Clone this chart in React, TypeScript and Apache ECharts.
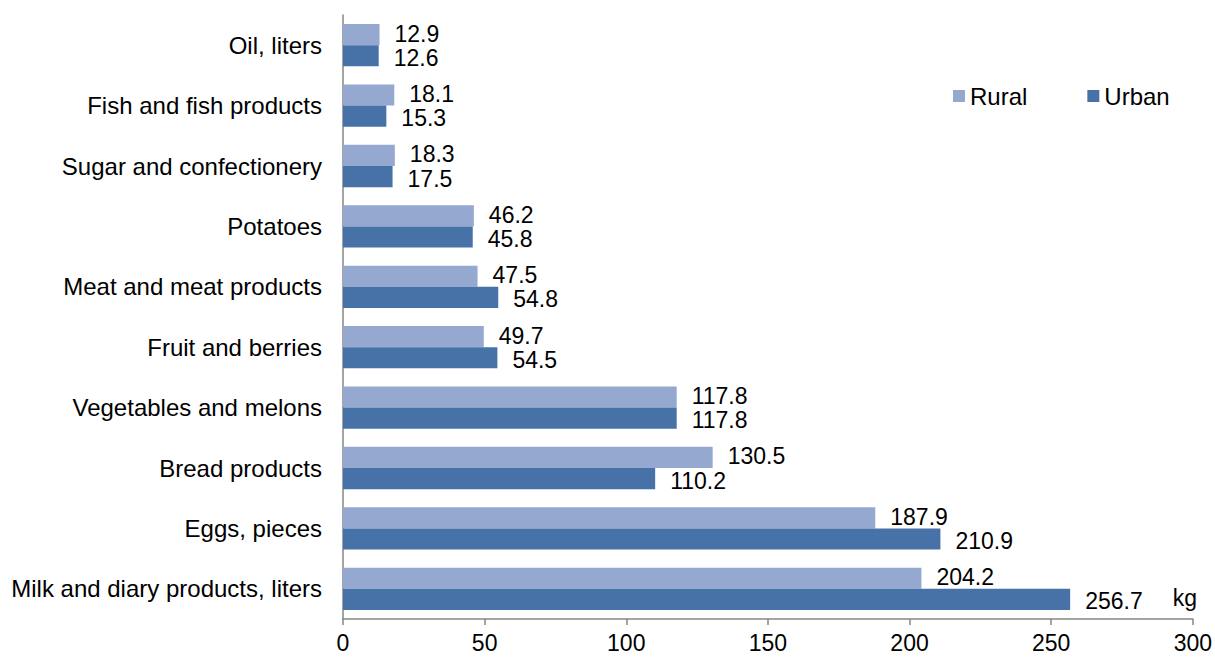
import React, { useEffect, useRef } from "react";
import * as echarts from "echarts";

const categories = [
  "Milk and diary products, liters",
  "Eggs, pieces",
  "Bread products",
  "Vegetables and melons",
  "Fruit and berries",
  "Meat and meat products",
  "Potatoes",
  "Sugar and confectionery",
  "Fish and fish products",
  "Oil, liters",
];
const rural = [204.2, 187.9, 130.5, 117.8, 49.7, 47.5, 46.2, 18.3, 18.1, 12.9];
const urban = [256.7, 210.9, 110.2, 117.8, 54.5, 54.8, 45.8, 17.5, 15.3, 12.6];
const xTicks = { min: 0, max: 300, interval: 50 };
const unitLabel = "kg";

const FONT = "'Liberation Sans', Arial, sans-serif";

export default function App() {
  const ref = useRef<HTMLDivElement>(null);
  useEffect(() => {
    if (!ref.current) return;
    const chart = echarts.init(ref.current, null, { renderer: "svg" });
    const labelStyle = (dy: number) => ({
      show: true,
      position: "right" as const,
      distance: 15,
      offset: [0, dy],
      fontSize: 23,
      fontFamily: FONT,
      color: "#000",
      formatter: (p: any) => Number(p.value).toFixed(1),
    });
    chart.setOption({
      animation: false,
      textStyle: { fontFamily: FONT },
      grid: { left: 343, right: 22, top: 15, bottom: 38, containLabel: false },
      legend: {
        data: ["Rural", "Urban"],
        left: 948,
        top: 79,
        itemWidth: 12,
        itemHeight: 12,
        itemGap: 60,
        icon: "rect",
        textStyle: { fontSize: 24, fontFamily: FONT, color: "#000" },
      },
      xAxis: {
        type: "value",
        min: xTicks.min,
        max: xTicks.max,
        interval: xTicks.interval,
        splitLine: { show: false },
        axisLine: { show: true, lineStyle: { color: "#868686", width: 1.5 } },
        axisTick: { show: true, length: 6, lineStyle: { color: "#868686", width: 1.5 } },
        axisLabel: { fontSize: 23, fontFamily: FONT, color: "#000", margin: 12 },
      },
      yAxis: {
        type: "category",
        data: categories,
        axisLine: { show: true, lineStyle: { color: "#868686", width: 1.5 } },
        axisTick: { show: false },
        axisLabel: { fontSize: 24, fontFamily: FONT, color: "#000", margin: 21 },
      },
      graphic: [
        {
          type: "text",
          right: 18,
          top: 586,
          style: { text: unitLabel, fontSize: 23, fontFamily: FONT, fill: "#000" },
        },
      ],
      series: [
        {
          name: "Rural",
          type: "bar",
          data: rural,
          barGap: "0%",
          barCategoryGap: "30%",
          itemStyle: { color: "#95A8D0" },
          label: labelStyle(-1),
        },
        {
          name: "Urban",
          type: "bar",
          data: urban,
          barGap: "0%",
          barCategoryGap: "30%",
          itemStyle: { color: "#4672A8" },
          label: labelStyle(2),
        },
      ],
    });
    return () => chart.dispose();
  }, []);
  return <div ref={ref} style={{ width: 1215, height: 657, position: "absolute", left: 0, top: 0 }} />;
}
